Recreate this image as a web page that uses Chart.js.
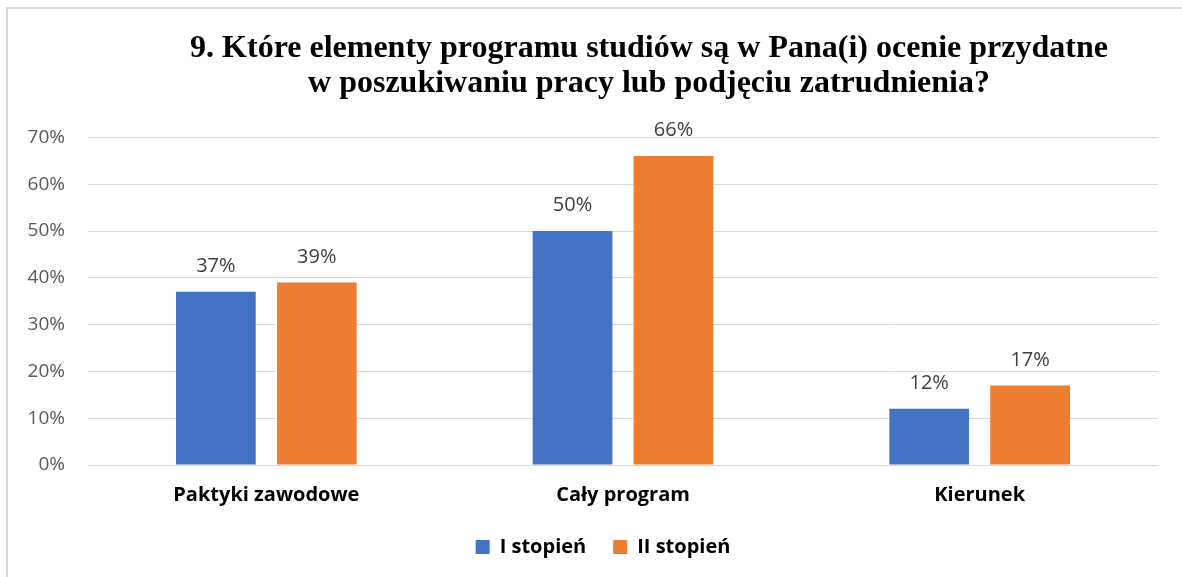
<!DOCTYPE html>
<html>
<head>
<meta charset="utf-8">
<script src="https://cdn.jsdelivr.net/npm/chart.js@4"></script>
<style>
  html, body { margin: 0; padding: 0; overflow: hidden; background: #fff; }
  #frame { position: absolute; left: 6px; top: 7px; width: 2000px; height: 2000px; border: 2px solid #d9d9d9; }
  #chart { position: absolute; left: 0; top: 0; }
</style>
</head>
<body>
<div id="frame"></div>
<canvas id="chart" width="1182" height="577"></canvas>
<script>
// data
const categories = ['Paktyki zawodowe', 'Cały program', 'Kierunek'];
const firstDegree = [37, 50, 12];   // I stopień
const secondDegree = [39, 66, 17];  // II stopień
const seriesNames = ['I stopień', 'II stopień'];
const yTicks = [0, 10, 20, 30, 40, 50, 60, 70];

const titleLines = [
  '9. Które elementy programu studiów są w Pana(i) ocenie przydatne',
  'w poszukiwaniu pracy lub podjęciu zatrudnienia?'
];

// percent labels above every bar
const valueLabels = {
  id: 'valueLabels',
  afterDatasetsDraw(chart) {
    const ctx = chart.ctx;
    ctx.save();
    ctx.font = '20px "Open Sans"';
    ctx.fillStyle = '#404040';
    ctx.textAlign = 'center';
    ctx.textBaseline = 'middle';
    chart.data.datasets.forEach((ds, i) => {
      chart.getDatasetMeta(i).data.forEach((bar, j) => {
        ctx.fillText(ds.data[j] + '%', bar.x, bar.y - 25.5);
      });
    });
    ctx.restore();
  }
};

// title and legend are not centred on the canvas in the original
const shiftBoxes = {
  id: 'shiftBoxes',
  afterLayout(chart) {
    const t = chart.titleBlock;
    t.left += 70; t.right += 70;
    const l = chart.legend;
    l.left += 24; l.right += 24;
  }
};

const ctx = document.getElementById('chart').getContext('2d');
const chart = new Chart(ctx, {
  type: 'bar',
  data: {
    labels: categories,
    datasets: [{
      label: seriesNames[0],
      data: firstDegree,
      backgroundColor: '#4472c4',
      borderWidth: 0
    }, {
      label: seriesNames[1],
      data: secondDegree,
      backgroundColor: '#ed7d31',
      borderWidth: 0
    }]
  },
  options: {
    responsive: false,
    animation: false,
    categoryPercentage: 0.566,
    barPercentage: 0.79,
    layout: {
      padding: { left: 0, right: 24, top: 0, bottom: 10 }
    },
    scales: {
      x: {
        grid: { display: false, drawTicks: false },
        border: { display: false },
        ticks: {
          padding: 18.5,
          color: '#000',
          font: { family: '"Open Sans"', size: 20, weight: 'bold' }
        },
        afterFit(scale) { scale.height = 45; }
      },
      y: {
        min: 0,
        max: 70,
        afterFit(scale) { scale.width = 88; },
        afterBuildTicks(scale) { scale.ticks = yTicks.map(v => ({ value: v })); },
        grid: { color: '#d9d9d9', lineWidth: 1, drawTicks: false },
        border: { display: false },
        ticks: {
          padding: 23,
          color: '#595959',
          font: { family: '"Open Sans"', size: 19 },
          callback: v => v + '%'
        }
      }
    },
    plugins: {
      title: {
        display: true,
        text: titleLines,
        color: '#000',
        font: { family: '"Liberation Serif"', size: 32, weight: 'bold', lineHeight: 1.1 },
        padding: { top: 31, bottom: 36 }
      },
      legend: {
        display: true,
        position: 'bottom',
        labels: {
          boxWidth: 14,
          boxHeight: 14,
          padding: 27,
          color: '#000',
          font: { family: '"Open Sans"', size: 20, weight: 'bold' }
        }
      },
      tooltip: { enabled: false }
    }
  },
  plugins: [valueLabels, shiftBoxes]
});
</script>
</body>
</html>
